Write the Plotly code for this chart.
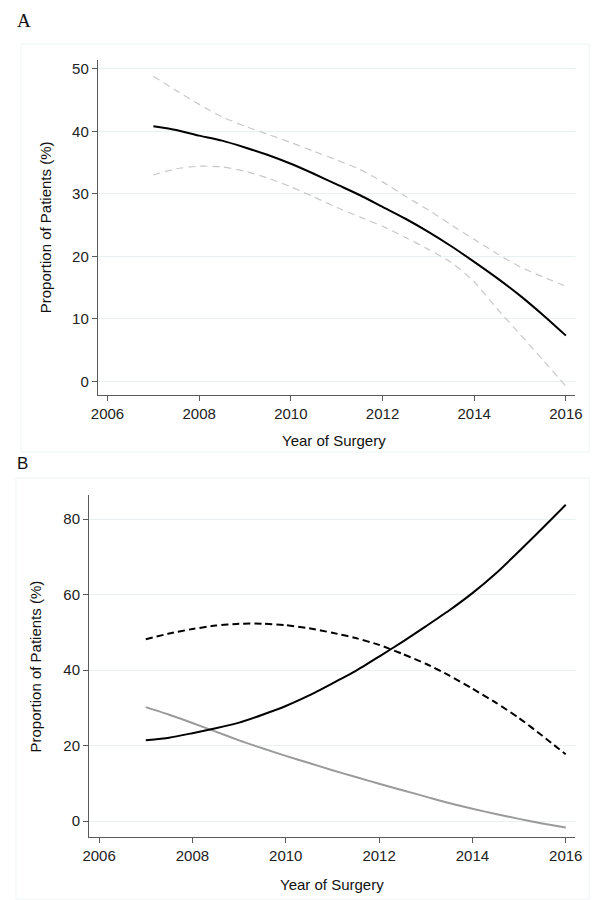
import plotly.graph_objects as go

# ---------------- data ----------------
years = [2007, 2007.5, 2008, 2008.5, 2009, 2009.5, 2010, 2010.5, 2011, 2011.5,
         2012, 2012.5, 2013, 2013.5, 2014, 2014.5, 2015, 2015.5, 2016]

# Panel A
a_fit = [40.8, 40.2, 39.3, 38.5, 37.4, 36.2, 34.8, 33.2, 31.5, 29.8,
         27.9, 26.0, 23.9, 21.6, 19.1, 16.5, 13.7, 10.6, 7.3]
a_upper = [48.8, 46.5, 44.3, 42.3, 40.8, 39.5, 38.2, 36.8, 35.4, 33.9,
           31.9, 29.6, 27.4, 25.0, 22.7, 20.4, 18.3, 16.7, 15.2]
a_lower = [33.0, 34.0, 34.4, 34.3, 33.6, 32.5, 31.1, 29.5, 27.8, 26.3,
           24.8, 23.0, 21.1, 19.0, 15.9, 11.6, 7.5, 3.4, -0.8]

# Panel B
b_solid = [21.4, 22.1, 23.3, 24.6, 26.1, 28.2, 30.5, 33.3, 36.5, 39.8,
           43.6, 47.5, 51.6, 55.8, 60.4, 65.6, 71.5, 77.6, 83.8]
b_dashed = [48.2, 49.7, 50.9, 51.8, 52.3, 52.3, 51.9, 51.1, 49.9, 48.5,
            46.7, 44.3, 41.7, 38.6, 35.1, 31.4, 27.3, 22.6, 17.7]
b_gray = [30.2, 28.2, 26.0, 23.7, 21.4, 19.3, 17.3, 15.4, 13.5, 11.7,
          9.9, 8.2, 6.5, 4.8, 3.3, 1.9, 0.6, -0.6, -1.7]

x_ticks = [2006, 2008, 2010, 2012, 2014, 2016]
a_yticks = [0, 10, 20, 30, 40, 50]
b_yticks = [0, 20, 40, 60, 80]

# ---------------- figure ----------------
W, H = 598, 900
OFF = 8  # page body margin offset


def px_x(p):
    return (p - OFF) / W


def px_y(p):
    return 1 - (p - OFF) / H


fig = go.Figure()
FONT = "Liberation Sans, Arial, sans-serif"


def add_line(x, y, xa, ya, color, width, dash=None):
    fig.add_trace(go.Scatter(
        x=x, y=y, mode="lines", xaxis=xa, yaxis=ya,
        line=dict(color=color, width=width, dash=dash, shape="spline", smoothing=0.6),
        showlegend=False, hoverinfo="skip"))


add_line(years, a_upper, "x", "y", "#c8c8c8", 1.2, "7px,5px")
add_line(years, a_lower, "x", "y", "#c8c8c8", 1.2, "7px,5px")
add_line(years, a_fit, "x", "y", "#000000", 2.0)

add_line(years, b_gray, "x2", "y2", "#9a9a9a", 2.0)
add_line(years, b_dashed, "x2", "y2", "#000000", 2.0, "7px,4px")
add_line(years, b_solid, "x2", "y2", "#000000", 2.0)

axis_common = dict(
    showline=True, linecolor="#5a5a5a", linewidth=1.2,
    ticks="outside", ticklen=5, tickcolor="#5a5a5a", tickwidth=1,
    tickfont=dict(family=FONT, size=15, color="#222222"),
    zeroline=False,
)

fig.update_layout(
    width=W, height=H,
    margin=dict(l=0, r=0, t=0, b=0),
    paper_bgcolor="white", plot_bgcolor="white",
    xaxis=dict(domain=[px_x(93), px_x(582)], anchor="y",
               range=[2005.79, 2016.19], tickvals=x_ticks, showgrid=False,
               **axis_common),
    yaxis=dict(domain=[px_y(395), px_y(60)], anchor="x",
               range=[-2.2, 51.4], tickvals=a_yticks, showgrid=True,
               gridcolor="#e8f0f1", gridwidth=1, **axis_common),
    xaxis2=dict(domain=[px_x(84), px_x(582)], anchor="y2",
                range=[2005.785, 2016.19], tickvals=x_ticks, showgrid=False,
                **axis_common),
    yaxis2=dict(domain=[px_y(837), px_y(495)], anchor="x2",
                range=[-4.2, 86.4], tickvals=b_yticks, showgrid=True,
                gridcolor="#e8f0f1", gridwidth=1, **axis_common),
)

# faint outer frames of each graph region
fig.add_shape(type="rect", xref="paper", yref="paper",
              x0=px_x(14), x1=px_x(597), y0=px_y(452), y1=px_y(44),
              line=dict(color="#eef4f5", width=1), layer="below")
fig.add_shape(type="rect", xref="paper", yref="paper",
              x0=px_x(9), x1=px_x(597), y0=px_y(899), y1=px_y(478),
              line=dict(color="#eef4f5", width=1), layer="below")


def ann(text, x, y, size, family=FONT, angle=0, xanchor="center", yanchor="middle"):
    fig.add_annotation(text=text, xref="paper", yref="paper",
                       x=x, y=y, showarrow=False,
                       xanchor=xanchor, yanchor=yanchor, textangle=angle,
                       font=dict(family=family, size=size, color="#111111"))


ann("A", 0, 1, 19, family="Liberation Serif, Times New Roman, serif",
    xanchor="left", yanchor="top")
ann("B", 0, px_y(463), 17, xanchor="left")
ann("Year of Surgery", px_x(335), px_y(441), 15)
ann("Year of Surgery", px_x(333), px_y(884), 15)
ann("Proportion of Patients (%)", px_x(39), px_y(227), 15, angle=-90)
ann("Proportion of Patients (%)", px_x(29), px_y(666), 15, angle=-90)

fig.write_html("out.html")
